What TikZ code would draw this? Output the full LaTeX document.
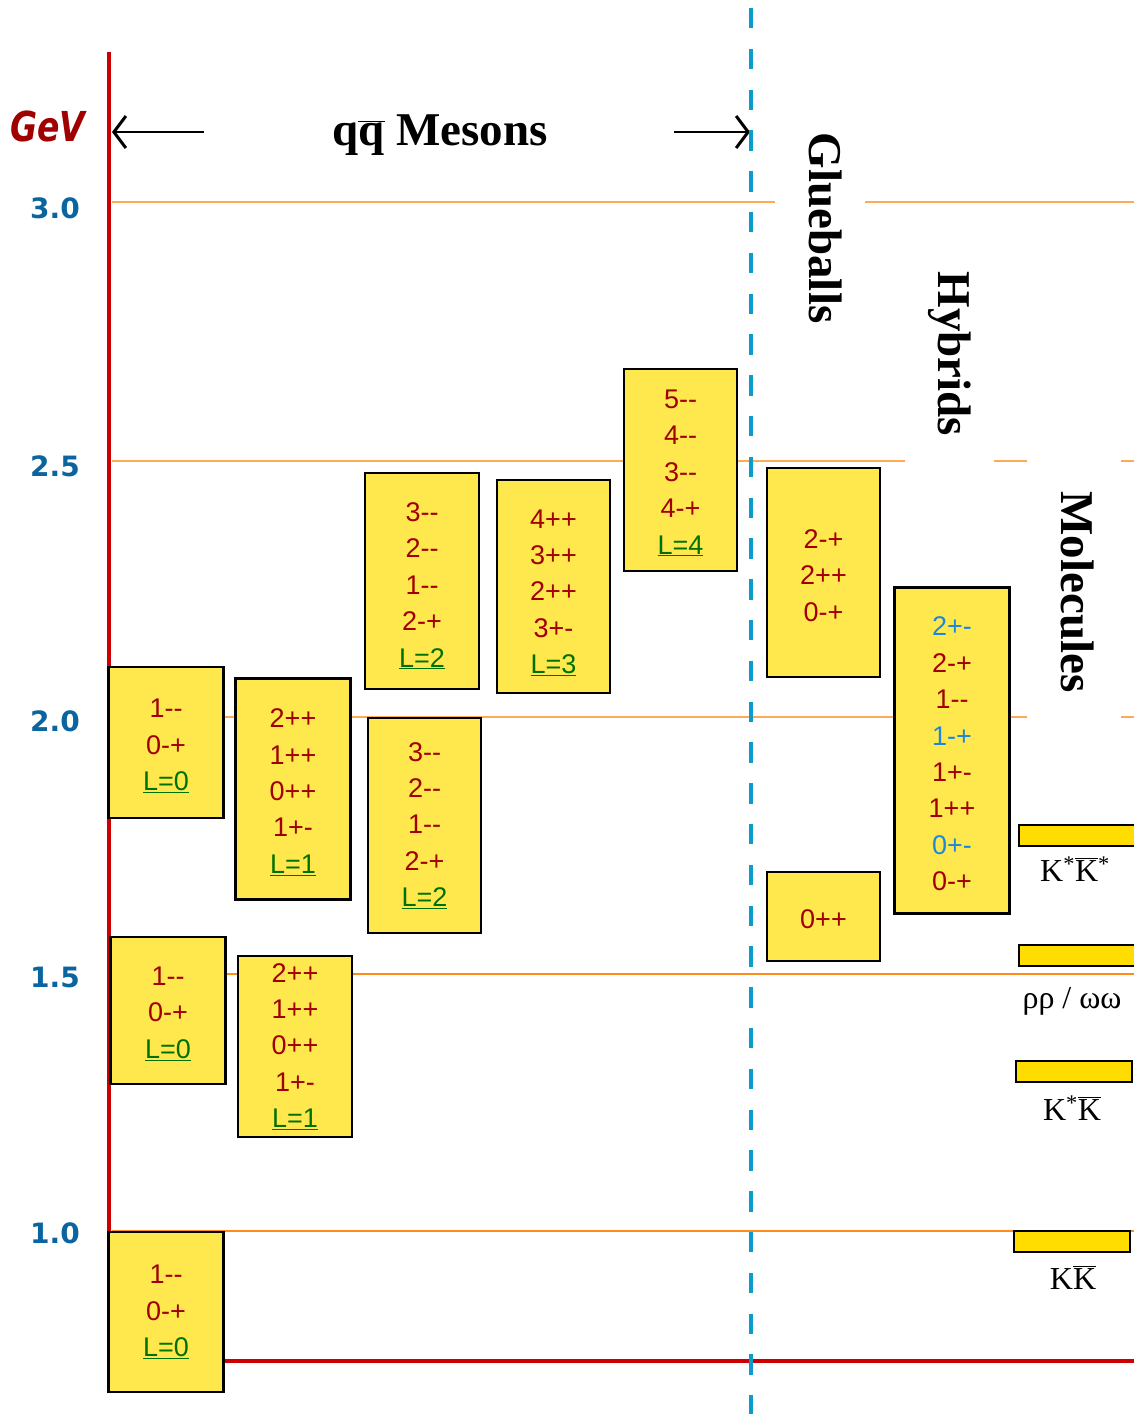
\documentclass[tikz,border=0pt]{standalone}
\usepackage{fontspec}
\setmainfont{Liberation Serif}
\newfontfamily\boxfont{Liberation Sans}
\newfontfamily\axfont{DejaVu Sans}
\usetikzlibrary{arrows.meta}
\definecolor{axred}{HTML}{CC0000}
\definecolor{gevred}{HTML}{A00000}
\definecolor{axblue}{HTML}{0A64A0}
\definecolor{orlight}{HTML}{FFAA55}
\definecolor{ordark}{HTML}{FF8C1A}
\definecolor{boxyel}{HTML}{FFE84D}
\definecolor{baryel}{HTML}{FFDD00}
\definecolor{mred}{HTML}{A00000}
\definecolor{lgreen}{HTML}{007000}
\definecolor{hblue}{HTML}{1E88D8}
\definecolor{dblue}{HTML}{0A9BCF}
\newcommand\Lv[1]{\textcolor{lgreen}{\underline{L=#1}}}
\newcommand\hb[1]{\textcolor{hblue}{#1}}
\newcommand\dn[1]{\rule{0pt}{#1pt}}
\begin{document}
\begin{tikzpicture}[x=1pt,y=-1pt,
  mbox/.style={draw=black, line width=2.2pt, fill=boxyel, inner sep=0pt, align=center, text=mred, font=\boxfont\fontsize{27}{36.4}\selectfont},
  bar/.style={draw=black, line width=2pt, fill=baryel},
  levl/.style={line width=2pt, draw=orlight},
  levd/.style={line width=2pt, draw=ordark},
  axlab/.style={font=\axfont\bfseries\fontsize{28}{30}\selectfont, text=axblue},
  bigtitle/.style={font=\bfseries\fontsize{47}{50}\selectfont},
  mollab/.style={font=\fontsize{32}{34}\selectfont, anchor=base},
  arr/.style={line width=2pt, -{Straight Barb[length=12pt,width=32pt,line width=3pt]}}
]
\useasboundingbox (0,0) rectangle (1133,1414);
% energy levels
\draw[levl] (112,202) -- (775,202);
\draw[levl] (865,202) -- (1140,202);
\draw[levl] (112,461) -- (905,461);
\draw[levl] (994,461) -- (1027,461);
\draw[levl] (1121,461) -- (1140,461);
\draw[levl] (112,717) -- (1027,717);
\draw[levl] (1121,717) -- (1140,717);
\draw[levd] (112,974) -- (1140,974);
\draw[levd] (112,1231) -- (1140,1231);
% axes
\coordinate (axtop) at (109,52);
\coordinate (axbot) at (109,1361);
\coordinate (axend) at (1140,1361);
\draw[axred, line width=3.2pt] (axtop) -- (axbot);
\draw[axred, line width=4pt] (axbot) -- (axend);
% axis labels
\node[font=\axfont\bfseries\itshape\fontsize{33}{36}\selectfont, text=gevred] (gev) at (48,126) {\scalebox{1}[1.25]{GeV}};
\node[axlab] (l30) at (55,208) {3.0};
\node[axlab] (l25) at (55,466) {2.5};
\node[axlab] (l20) at (55,721) {2.0};
\node[axlab] (l15) at (55,977) {1.5};
\node[axlab] (l10) at (55,1233) {1.0};
% title and arrows
\node[bigtitle, anchor=base] (title) at (440,145) {q$\overline{\mbox{q}}$ Mesons};
\coordinate (la) at (204,132);
\coordinate (lat) at (112,132);
\coordinate (ra) at (674,132);
\coordinate (rat) at (750,132);
\draw[arr] (la) -- (lat);
\draw[arr] (ra) -- (rat);
% vertical labels
\node[bigtitle, rotate=-90] (glue) at (826,228) {Glueballs};
\node[bigtitle, rotate=-90] (hyb) at (950,354) {Hybrids};
\node[bigtitle, rotate=-90] (mol) at (1078,592) {Molecules};
% meson boxes
\node[mbox, minimum width=115, minimum height=160] (b1) at (166,1312) {1--\\0-+\\\Lv{0}};
\node[mbox, minimum width=115, minimum height=147] (b2) at (168,1010.5) {\dn{25}1--\\0-+\\\Lv{0}};
\node[mbox, minimum width=115, minimum height=151] (b3) at (166,742.7) {\dn{25.5}1--\\0-+\\\Lv{0}};
\node[mbox, minimum width=114, minimum height=181] (b4) at (295,1046.5) {2++\\1++\\0++\\1+-\\\Lv{1}};
\node[mbox, minimum width=115, minimum height=221] (b5) at (293,789) {\dn{25}2++\\1++\\0++\\1+-\\\Lv{1}};
\node[mbox, minimum width=113, minimum height=215] (b6) at (424.5,825.5) {3--\\2--\\1--\\2-+\\\Lv{2}};
\node[mbox, minimum width=114, minimum height=216] (b7) at (422,581) {\dn{28.5}3--\\2--\\1--\\2-+\\\Lv{2}};
\node[mbox, minimum width=113, minimum height=213] (b8) at (553.5,586.5) {\dn{31}4++\\3++\\2++\\3+-\\\Lv{3}};
\node[mbox, minimum width=113, minimum height=202] (b9) at (680.5,470) {\dn{24.5}5--\\4--\\3--\\4-+\\\Lv{4}};
% glueball boxes
\node[mbox, minimum width=113, minimum height=209] (g1) at (823.5,572.5) {\dn{25}2-+\\2++\\0-+};
\node[mbox, minimum width=113, minimum height=89] (g2) at (823.5,916.5) {\dn{25}0++};
% hybrid box
\node[mbox, minimum width=115, minimum height=326] (h1) at (952,750.5) {\dn{26}\hb{2+-}\\2-+\\1--\\\hb{1-+}\\1+-\\1++\\\hb{0+-}\\0-+};
% dashed separator
\coordinate (dtop) at (751,0);
\coordinate (dbot) at (751,1414);
\draw[dblue, line width=4pt, dash pattern=on 20.4pt off 20.4pt, dash phase=32.8pt] (dtop) -- (dbot);
% molecule bars
\node[bar, minimum width=121, minimum height=21, inner sep=0pt] (m1) at (1079.5,835) {};
\node[bar, minimum width=121, minimum height=21, inner sep=0pt] (m2) at (1079.5,955.5) {};
\node[bar, minimum width=116, minimum height=21, inner sep=0pt] (m3) at (1074,1071) {};
\node[bar, minimum width=116, minimum height=21, inner sep=0pt] (m4) at (1072,1241) {};
\node[mollab] (t1) at (1075,881) {K\textsuperscript{*}$\overline{\mbox{K}}$\textsuperscript{*}};
\node[mollab] (t2) at (1072,1008) {ρρ / ωω};
\node[mollab] (t3) at (1072,1120) {K\textsuperscript{*}$\overline{\mbox{K}}$};
\node[mollab] (t4) at (1073,1289) {K$\overline{\mbox{K}}$};
\end{tikzpicture}
\end{document}
